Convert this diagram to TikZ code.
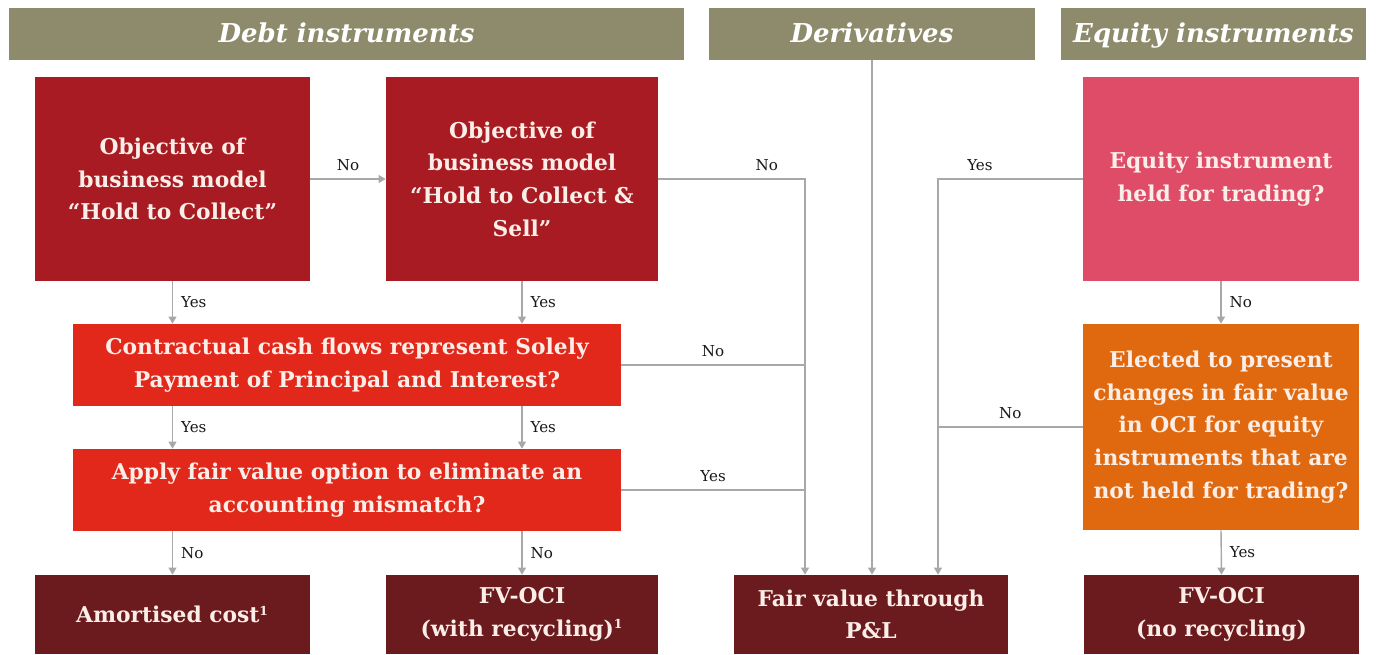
\documentclass[tikz,border=0pt]{standalone}
\usepackage{fontspec}
\setmainfont{DejaVu Serif}
\usetikzlibrary{arrows.meta}

\definecolor{hdrgray}{HTML}{8E8A6C}
\definecolor{darkred}{HTML}{A81B22}
\definecolor{brightred}{HTML}{E2281B}
\definecolor{maroon}{HTML}{6B1B1E}
\definecolor{pinkred}{HTML}{DE4C68}
\definecolor{orangebox}{HTML}{E0690F}
\definecolor{boxtext}{HTML}{FBEEE8}
\definecolor{linegray}{HTML}{A8A8A8}

\begin{document}
\begin{tikzpicture}[x=0.02cm,y=-0.02cm,
  box/.style={text=boxtext, align=center, inner sep=0pt,
    font=\fontsize{12.4}{18.6}\selectfont\bfseries},
  hdr/.style={fill=hdrgray, text=white, minimum height=1.04cm, inner sep=0pt,
    text height=10.5pt, text depth=0.5pt,
    font=\fontsize{14.8}{16}\selectfont\bfseries\itshape},
  lbl/.style={font=\fontsize{8.6}{10}\selectfont, text=black!90, inner sep=4.5pt},
  line/.style={draw=linegray, line width=0.8pt},
  arr/.style={line, -{Triangle[width=4.5pt,length=4pt]}}]

  \useasboundingbox (0,0) rectangle (1376,654);

  % headers
  \node[hdr, minimum width=13.52cm] (debt) at (346.5,34) {Debt instruments};
  \node[hdr, minimum width=6.52cm] (deriv) at (872,34) {Derivatives};
  \node[hdr, minimum width=6.10cm] (equity) at (1213.5,34) {Equity instruments};

  % debt instruments
  \node[box, fill=darkred, minimum width=5.5cm, minimum height=4.08cm] (htc) at (172.5,179)
    {Objective of\\business model\\“Hold to Collect”};
  \node[box, fill=darkred, minimum width=5.44cm, minimum height=4.08cm] (htcs) at (522,179)
    {Objective of\\business model\\“Hold to Collect \&\\Sell”};
  \node[box, fill=brightred, minimum width=10.96cm, minimum height=1.64cm] (sppi) at (347,365)
    {Contractual cash flows represent Solely\\Payment of Principal and Interest?};
  \node[box, fill=brightred, minimum width=10.96cm, minimum height=1.64cm] (fvo) at (347,490)
    {Apply fair value option to eliminate an\\accounting mismatch?};

  % equity instruments
  \node[box, fill=pinkred, minimum width=5.52cm, minimum height=4.08cm] (hft) at (1221,179)
    {Equity instrument\\held for trading?};
  \node[box, fill=orangebox, minimum width=5.52cm, minimum height=4.12cm] (elect) at (1221,427)
    {Elected to present\\changes in fair value\\in OCI for equity\\instruments that are\\not held for trading?};

  % outcomes
  \node[box, fill=maroon, minimum width=5.5cm, minimum height=1.58cm] (amort) at (172.5,614.5)
    {Amortised cost\textsuperscript{\scriptsize 1}};
  \node[box, fill=maroon, minimum width=5.44cm, minimum height=1.58cm] (fvoci) at (522,614.5)
    {FV-OCI\\(with recycling)\textsuperscript{\scriptsize 1}};
  \node[box, fill=maroon, minimum width=5.48cm, minimum height=1.58cm] (fvpl) at (871,614.5)
    {Fair value through\\P\&L};
  \node[box, fill=maroon, minimum width=5.5cm, minimum height=1.58cm] (fvocinr) at (1221.5,614.5)
    {FV-OCI\\(no recycling)};

  \coordinate (jdebt) at (805,0);
  \coordinate (jeq) at (938,0);

  % debt flow
  \draw[arr] (htc) -- node[lbl,above]{No} (htcs);
  \draw[arr] (htc.south) -- node[lbl,right]{Yes} (htc.south |- sppi.north);
  \draw[arr] (htcs.south) -- node[lbl,right]{Yes} (htcs.south |- sppi.north);
  \draw[arr] (htc.south |- sppi.south) -- node[lbl,right]{Yes} (htc.south |- fvo.north);
  \draw[arr] (htcs.south |- sppi.south) -- node[lbl,right]{Yes} (htcs.south |- fvo.north);
  \draw[arr] (htc.south |- fvo.south) -- node[lbl,right]{No} (amort.north);
  \draw[arr] (htcs.south |- fvo.south) -- node[lbl,right]{No} (fvoci.north);

  % to fair value through P&L
  \draw[arr] (htcs.east) -- node[lbl,pos=0.74,above]{No} (htcs.east -| jdebt) -- (jdebt |- fvpl.north);
  \draw[line] (sppi.east) -- node[lbl,above]{No} (sppi.east -| jdebt);
  \draw[line] (fvo.east) -- node[lbl,above]{Yes} (fvo.east -| jdebt);
  \draw[arr] (deriv.south) -- (deriv.south |- fvpl.north);
  \draw[arr] (hft.west) -- node[lbl,pos=0.71,above]{Yes} (hft.west -| jeq) -- (jeq |- fvpl.north);
  \draw[line] (elect.west) -- node[lbl,above]{No} (elect.west -| jeq);

  % equity flow
  \draw[arr] (hft.south) -- node[lbl,right]{No} (elect.north);
  \draw[arr] (elect.south) -- node[lbl,right]{Yes} (fvocinr.north);
\end{tikzpicture}
\end{document}
